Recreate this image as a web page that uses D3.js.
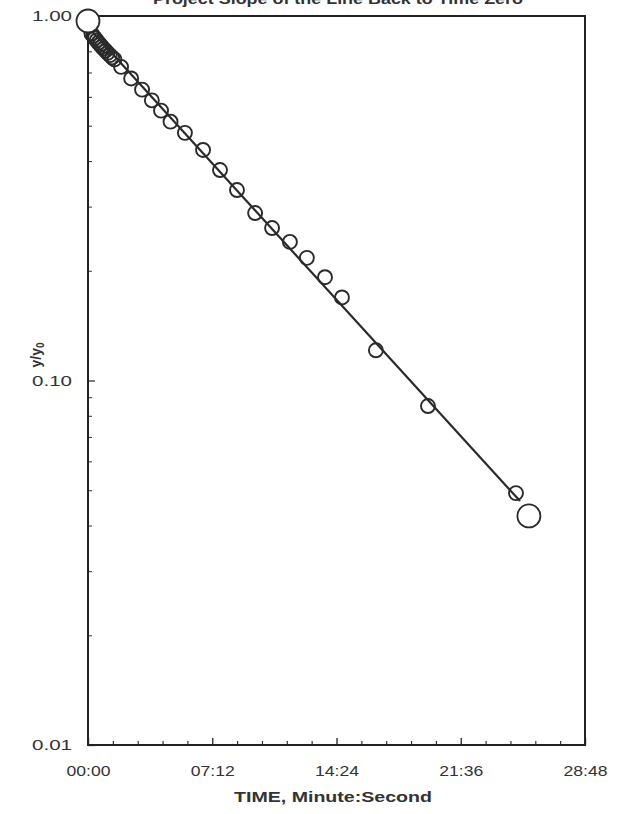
<!DOCTYPE html>
<html>
<head>
<meta charset="utf-8">
<script src="https://cdn.jsdelivr.net/npm/d3@7/dist/d3.min.js"></script>
<style>
  html, body { margin: 0; padding: 0; background: #ffffff; }
  svg { display: block; }
  text { font-family: "Liberation Sans", Arial, sans-serif; fill: #333; }
</style>
</head>
<body>
<svg id="chart" width="618" height="814"></svg>
<script>
// ---- data (time in seconds, value = y/y0) ----
const timeSec = [12, 18, 24, 30, 36, 42, 48, 54, 61, 68, 76, 84, 92, 115, 150, 188, 222, 254, 287, 337, 400, 459, 518, 581, 640, 702, 761, 824, 883, 1001, 1182, 1488];
const ratio   = [0.895, 0.882, 0.869, 0.857, 0.845, 0.835, 0.824, 0.814, 0.803, 0.792, 0.781, 0.770, 0.760, 0.725, 0.674, 0.628, 0.587, 0.550, 0.513, 0.478, 0.429, 0.378, 0.333, 0.288, 0.262, 0.240, 0.217, 0.192, 0.169, 0.121, 0.0851, 0.0491];
// start and end points (large markers)
const endTime  = [0, 1533];
const endRatio = [0.969, 0.0425];
// fitted straight line (semi-log)
const fitTime  = [0, 1502];
const fitRatio = [0.933, 0.0467];
// axes
const xMajorTicks  = [0, 432, 864, 1296, 1728];
const xTickLabels  = ["00:00", "07:12", "14:24", "21:36", "28:48"];
const yMajorTicks  = [0.01, 0.1, 1];
const yTickLabels  = ["0.01", "0.10", "1.00"];
const titleText = "Project Slope of the Line Back to Time Zero";
const xTitle = "TIME, Minute:Second";

// ---- layout ----
const svg = d3.select("#chart");
const L = 88, R = 585, T = 16, B = 745;
const x = d3.scaleLinear().domain([0, 1728]).range([L, R]);
const y = d3.scaleLog().domain([0.01, 1]).range([B, T]);

// title (cut off at top, as in the reference)
svg.append("text").attr("x", 338).attr("y", 4)
  .attr("text-anchor", "middle").attr("font-size", 15).attr("font-weight", "bold")
  .attr("textLength", 370).attr("lengthAdjust", "spacingAndGlyphs")
  .text(titleText);

// minor x ticks: 5 subdivisions between majors
const xMinor = [];
for (let i = 0; i < xMajorTicks.length - 1; i++) {
  const a = xMajorTicks[i], b = xMajorTicks[i + 1];
  for (let k = 1; k < 5; k++) xMinor.push(a + (b - a) * k / 5);
}

const gx = svg.append("g").attr("transform", `translate(0,${B})`);
gx.call(d3.axisBottom(x).tickValues(xMinor).tickSizeInner(-4).tickSizeOuter(0).tickFormat(""));
gx.select(".domain").remove();
const gx2 = svg.append("g").attr("transform", `translate(0,${B})`);
gx2.call(d3.axisBottom(x).tickValues(xMajorTicks).tickSizeInner(-7).tickSizeOuter(0)
  .tickPadding(20).tickFormat((d, i) => xTickLabels[i]));
gx2.select(".domain").remove();
gx.selectAll("line").attr("stroke", "#333").attr("stroke-width", 1.2);
gx2.selectAll("line").attr("stroke", "#333").attr("stroke-width", 1.4);
gx2.selectAll("text").attr("font-size", 15).attr("fill", "#333")
  .attr("font-family", "'Liberation Sans', Arial, sans-serif")
  .attr("textLength", 44).attr("lengthAdjust", "spacingAndGlyphs");

// y ticks
const yMinor = y.ticks().filter(v => !yMajorTicks.some(m => Math.abs(m - v) < 1e-9));
const gy = svg.append("g").attr("transform", `translate(${L},0)`);
gy.call(d3.axisLeft(y).tickValues(yMinor).tickSizeInner(-4).tickSizeOuter(0).tickFormat(""));
gy.select(".domain").remove();
const gy2 = svg.append("g").attr("transform", `translate(${L},0)`);
gy2.call(d3.axisLeft(y).tickValues(yMajorTicks).tickSizeInner(-7).tickSizeOuter(0)
  .tickPadding(16).tickFormat((d, i) => yTickLabels[i]));
gy2.select(".domain").remove();
gy.selectAll("line").attr("stroke", "#444").attr("stroke-width", 1.1);
gy2.selectAll("line").attr("stroke", "#333").attr("stroke-width", 1.3);
gy2.selectAll("text").attr("font-size", 15).attr("fill", "#333")
  .attr("font-family", "'Liberation Sans', Arial, sans-serif")
  .attr("textLength", 40).attr("lengthAdjust", "spacingAndGlyphs");

// frame
svg.append("rect").attr("x", L).attr("y", T).attr("width", R - L).attr("height", B - T)
  .attr("fill", "none").attr("stroke", "#222").attr("stroke-width", 2);

// axis titles
svg.append("text").attr("x", 333).attr("y", 802).attr("text-anchor", "middle")
  .attr("font-size", 15).attr("font-weight", "bold")
  .attr("textLength", 198).attr("lengthAdjust", "spacingAndGlyphs").text(xTitle);
const yl = svg.append("text").attr("transform", "translate(41,355) rotate(-90)")
  .attr("text-anchor", "middle").attr("font-size", 14).attr("font-weight", "bold");
yl.append("tspan").text("y/y");
yl.append("tspan").attr("font-size", 10).attr("dy", 3).text("0");

// fitted line
const lineData = fitTime.map((t, i) => [t, fitRatio[i]]);
svg.append("path").datum(lineData)
  .attr("d", d3.line().x(d => x(d[0])).y(d => y(d[1])))
  .attr("fill", "none").attr("stroke", "#2a2a2a").attr("stroke-width", 2.2);

// data circles
const pts = timeSec.map((t, i) => ({ t, v: ratio[i] }));
svg.append("g").selectAll("circle").data(pts).join("circle")
  .attr("cx", d => x(d.t)).attr("cy", d => y(d.v)).attr("r", 7)
  .attr("fill", "none").attr("stroke", "#2a2a2a").attr("stroke-width", 1.9);

// large end markers
const ends = endTime.map((t, i) => ({ t, v: endRatio[i] }));
svg.append("g").selectAll("circle").data(ends).join("circle")
  .attr("cx", d => x(d.t)).attr("cy", d => y(d.v)).attr("r", 11.5)
  .attr("fill", "#fff").attr("stroke", "#2a2a2a").attr("stroke-width", 1.8);
</script>
</body>
</html>
